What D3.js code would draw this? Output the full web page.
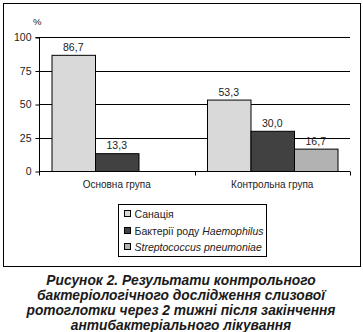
<!DOCTYPE html>
<html>
<head>
<meta charset="utf-8">
<script src="https://cdn.jsdelivr.net/npm/d3@7"></script>
<style>
  html, body { margin: 0; padding: 0; background: #fff; }
  svg { display: block; }
</style>
</head>
<body>
<svg id="chart" width="363" height="332"></svg>
<script>
// Groups on the x axis
const groups = ["Основна група", "Контрольна група"];
// Series (percent of patients)
const seriesNames = ["Санація", "Бактерії роду Haemophilus", "Streptococcus pneumoniae"];
const sanation = [86.7, 53.3];
const haemophilus = [13.3, 30.0];
const streptococcus = [null, 16.7];
const yTicks = [0, 25, 50, 75, 100];
const captionLines = [
  "Рисунок 2. Результати контрольного",
  "бактеріологічного дослідження слизової",
  "ротоглотки через 2 тижні після закінчення",
  "антибактеріального лікування"
];

const seriesValues = [sanation, haemophilus, streptococcus];
const colors = ["#d9d9d9", "#414141", "#b2b2b2"];
const font = "'Liberation Sans', Arial, sans-serif";

const svg = d3.select("#chart");

// Outer frame
svg.append("rect").attr("x", 3.5).attr("y", 3.5).attr("width", 357).attr("height", 263)
  .attr("fill", "none").attr("stroke", "#000").attr("stroke-width", 1);

const plot = { left: 39, right: 350, top: 37, bottom: 171 };

const x0 = d3.scaleBand().domain(groups).range([plot.left, plot.right]).paddingInner(0).paddingOuter(0);
const x1 = d3.scaleBand().domain(d3.range(seriesNames.length))
  .range([12.5, x0.bandwidth() - 12.5]).padding(0);
const y = d3.scaleLinear().domain([0, 100]).range([plot.bottom, plot.top]);

// Horizontal grid lines
svg.append("g").selectAll("line").data(yTicks.filter(d => d > 0)).join("line")
  .attr("x1", plot.left).attr("x2", plot.right)
  .attr("y1", d => Math.round(y(d)) + 0.5).attr("y2", d => Math.round(y(d)) + 0.5)
  .attr("stroke", "#000").attr("stroke-width", 1);

// Bars
const bars = [];
groups.forEach((g, gi) => {
  seriesValues.forEach((vals, si) => {
    if (vals[gi] != null) bars.push({ g, si, v: vals[gi] });
  });
});

const gBars = svg.append("g");
gBars.selectAll("rect").data(bars).join("rect")
  .attr("x", d => x0(d.g) + x1(d.si) + 0.5)
  .attr("y", d => y(d.v) + 0.5)
  .attr("width", x1.bandwidth())
  .attr("height", d => plot.bottom - y(d.v))
  .attr("fill", d => colors[d.si])
  .attr("stroke", "#000").attr("stroke-width", 1);

// Value labels
gBars.selectAll("text").data(bars).join("text")
  .attr("x", d => x0(d.g) + x1(d.si) + x1.bandwidth() / 2)
  .attr("y", d => y(d.v) - 4)
  .attr("text-anchor", "middle")
  .attr("font-family", font).attr("font-size", 10.5).attr("fill", "#222")
  .text(d => d3.format(".1f")(d.v).replace(".", ","));

// Y axis
const yAxis = svg.append("g").attr("transform", `translate(${plot.left + 0.5},0.5)`)
  .call(d3.axisLeft(y).tickValues(yTicks).tickSize(4).tickPadding(4));
yAxis.select(".domain").attr("stroke", "#000").attr("d", `M-4,${y(100)}H0V${y(0)}`);
yAxis.selectAll("text").attr("font-family", font).attr("font-size", 10.5).attr("fill", "#222");

// X axis
const xAxis = svg.append("g").attr("transform", `translate(0,${plot.bottom + 0.5})`);
xAxis.append("line").attr("x1", plot.left).attr("x2", plot.right).attr("stroke", "#000");
const xTickPos = [plot.left, ...groups.map(g => x0(g) + x0.bandwidth())];
xAxis.selectAll("line.tick").data(xTickPos).join("line").attr("class", "tick")
  .attr("x1", d => Math.round(d) + 0.5).attr("x2", d => Math.round(d) + 0.5)
  .attr("y1", 0).attr("y2", 4).attr("stroke", "#000");
xAxis.selectAll("text").data(groups).join("text")
  .attr("x", d => x0(d) + x0.bandwidth() / 2)
  .attr("y", 16)
  .attr("text-anchor", "middle")
  .attr("font-family", font).attr("font-size", 10).attr("fill", "#222")
  .text(d => d);

// Unit label
svg.append("text").attr("x", 33).attr("y", 25).attr("font-family", font)
  .attr("font-size", 9.5).attr("fill", "#222").text("%");

// Legend
const legend = svg.append("g");
legend.append("rect").attr("x", 118.5).attr("y", 204.5).attr("width", 148).attr("height", 52)
  .attr("fill", "#fff").attr("stroke", "#000");
const legendRows = [214, 231, 247];
seriesNames.forEach((name, i) => {
  legend.append("rect").attr("x", 124.5).attr("y", legendRows[i] - 3.5)
    .attr("width", 6).attr("height", 6).attr("fill", colors[i]).attr("stroke", "#000");
  const t = legend.append("text").attr("x", 134.5).attr("y", legendRows[i] + 4)
    .attr("font-family", font).attr("font-size", 10.5).attr("fill", "#222");
  if (i === 1) {
    t.append("tspan").text("Бактерії роду ");
    t.append("tspan").attr("font-style", "italic").text("Haemophilus");
  } else if (i === 2) {
    t.attr("font-style", "italic").text(name);
  } else {
    t.text(name);
  }
});

// Caption
svg.append("g").selectAll("text").data(captionLines).join("text")
  .attr("x", 181).attr("y", (d, i) => 284.5 + i * 15)
  .attr("text-anchor", "middle")
  .attr("font-family", font).attr("font-size", 13.8)
  .attr("font-weight", "bold").attr("font-style", "italic")
  .attr("fill", "#1a1a1a")
  .text(d => d);
</script>
</body>
</html>
